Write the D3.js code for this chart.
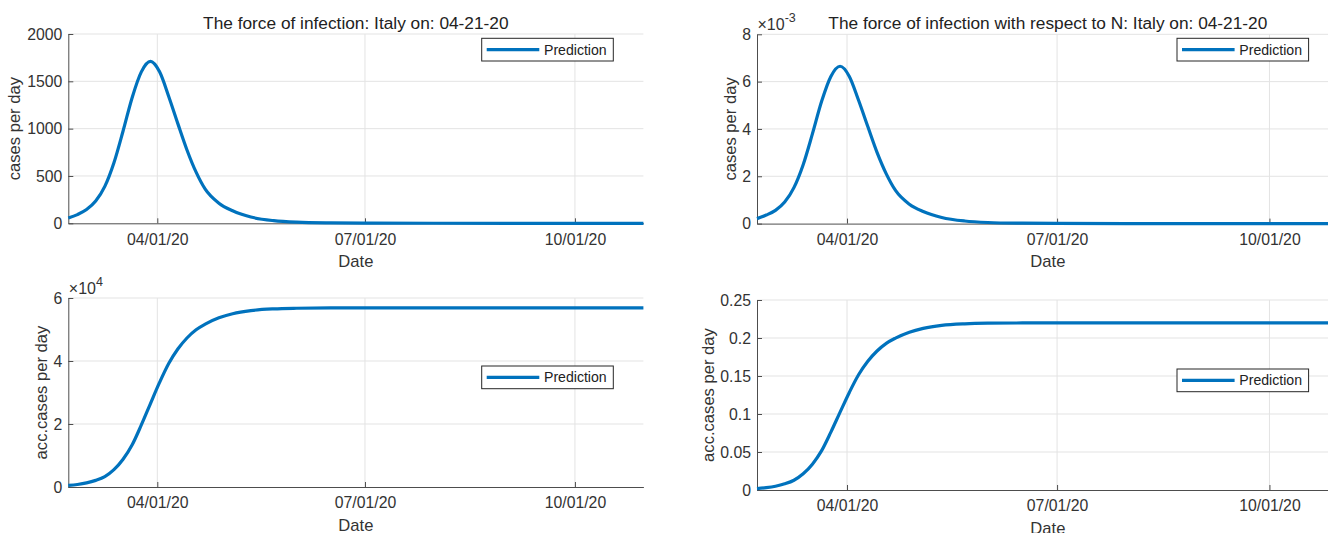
<!DOCTYPE html>
<html><head><meta charset="utf-8">
<script src="https://cdn.jsdelivr.net/npm/d3@7"></script>
<style>
body{margin:0;background:#fff;overflow:hidden;}
svg{display:block;font-family:"Liberation Sans",Arial,Helvetica,sans-serif;}
</style></head><body>
<svg id="chart" width="1328" height="533"></svg>
<script>
// ---- data ----
const sampleDates = ["2020-02-22","2020-02-26","2020-03-01","2020-03-05","2020-03-09","2020-03-13",
  "2020-03-17","2020-03-21","2020-03-25","2020-03-29","2020-04-02","2020-04-06","2020-04-10",
  "2020-04-14","2020-04-18","2020-04-22","2020-04-28","2020-05-04","2020-05-12","2020-05-22",
  "2020-06-01","2020-06-16","2020-07-01","2020-07-31","2020-09-09","2020-10-31"];
const forceValues = [57,92,145,235,390,640,975,1330,1600,1710,1600,1340,1053,775,540,360,
  212,132,66,28,12,4,1.5,0.3,0.05,0];
const forceNValues = [0.00021,0.00036,0.00056,0.00091,0.00152,0.00249,0.00379,0.00517,0.00622,
  0.00665,0.00622,0.00521,0.00410,0.00301,0.00210,0.00140,0.00082,0.00051,0.00026,0.00011,
  0.000047,0.000016,0.000006,0.000001,0.0000002,0];
const accValues = [500,800,1300,2100,3300,5500,8800,13400,19700,26500,33200,39200,43800,47300,
  49900,51700,53700,55000,56000,56550,56750,56850,56880,56880,56880,56880];
const accNValues = [0.0019,0.0031,0.0050,0.0081,0.0128,0.0213,0.0340,0.0518,0.0762,0.1025,
  0.1284,0.1516,0.1694,0.1829,0.1930,0.1999,0.2077,0.2127,0.2166,0.2187,0.2195,0.2198,0.2200,
  0.2200,0.2200,0.2200];
const xStart = "2020-02-22", xEnd = "2020-10-31";
const xTickDates = ["2020-04-01","2020-07-01","2020-10-01"];
const yTicksForce = [0,500,1000,1500,2000];
const yTicksForceN = [0,0.002,0.004,0.006,0.008];
const yTicksAcc = [0,20000,40000,60000];
const yTicksAccN = [0,0.05,0.1,0.15,0.2,0.25];
const seriesName = "Prediction";

const parse = d3.timeParse("%Y-%m-%d");
const svg = d3.select("#chart");
const BLUE = "#0072BD", TXT = "#333333", AX = "#4d4d4d", GRID = "#e3e3e3";

const panels = [
  {L:68.3,R:643.4,T:34,B:223.3,vals:forceValues,ticks:yTicksForce,max:2000,
   fmt:d=>d3.format("d")(d),exp:null,title:"The force of infection: Italy on: 04-21-20",
   ylabel:"cases per day",ylx:20,legTop:38.3},
  {L:757,R:1338.7,T:34.3,B:223.6,vals:forceNValues,ticks:yTicksForceN,max:0.008,
   fmt:d=>d3.format("d")(Math.round(d*1000)),exp:"-3",title:"The force of infection with respect to N: Italy on: 04-21-20",
   ylabel:"cases per day",ylx:735.5,legTop:38.3},
  {L:68.3,R:643.4,T:298,B:487,vals:accValues,ticks:yTicksAcc,max:60000,
   fmt:d=>d3.format("d")(d/10000),exp:"4",title:null,
   ylabel:"acc.cases per day",ylx:46.5,legTop:366},
  {L:757,R:1338.7,T:300,B:490,vals:accNValues,ticks:yTicksAccN,max:0.25,
   fmt:d=>d===0?"0":d3.format("")(+d.toFixed(2)),exp:null,title:null,
   ylabel:"acc.cases per day",ylx:714,legTop:369}
];

panels.forEach(p=>{
  const x = d3.scaleTime().domain([parse(xStart),parse(xEnd)]).range([p.L,p.R]);
  const y = d3.scaleLinear().domain([0,p.max]).range([p.B,p.T]);
  const g = svg.append("g");
  // grid
  g.selectAll(".gx").data(xTickDates.map(parse)).join("line")
    .attr("x1",d=>x(d)).attr("x2",d=>x(d)).attr("y1",p.T).attr("y2",p.B)
    .attr("stroke",GRID).attr("stroke-width",1);
  g.selectAll(".gy").data(p.ticks.filter(t=>t>0)).join("line")
    .attr("x1",p.L).attr("x2",p.R).attr("y1",d=>y(d)).attr("y2",d=>y(d))
    .attr("stroke",GRID).attr("stroke-width",1);
  // axes
  const xAxis = d3.axisBottom(x).tickValues(xTickDates.map(parse))
    .tickFormat(d3.timeFormat("%m/%d/%y")).tickSizeInner(-5).tickSizeOuter(0).tickPadding(10);
  const xg = g.append("g").attr("transform",`translate(0,${p.B})`).call(xAxis);
  const yAxis = d3.axisLeft(y).tickValues(p.ticks).tickFormat(p.fmt)
    .tickSizeInner(-5).tickSizeOuter(0).tickPadding(6);
  const yg = g.append("g").attr("transform",`translate(${p.L},0)`).call(yAxis);
  [xg,yg].forEach(a=>{
    a.select(".domain").attr("stroke",AX).attr("stroke-width",1);
    a.selectAll(".tick line").attr("stroke",AX);
    a.selectAll(".tick text").attr("fill",TXT).style("font-size","15.8px")
      .style("font-family",'"Liberation Sans",Arial,sans-serif');
  });
  xg.selectAll(".tick text").attr("dy","0.71em");
  // line
  const line = d3.line().x((d,i)=>x(parse(sampleDates[i]))).y(d=>y(d)).curve(d3.curveMonotoneX);
  g.append("path").datum(p.vals).attr("d",line).attr("fill","none")
    .attr("stroke",BLUE).attr("stroke-width",3.2).attr("stroke-linejoin","round");
  // exponent
  if(p.exp){
    const t = g.append("text").attr("x",p.L+0.5).attr("y",p.T-4.5).attr("fill",TXT)
      .style("font-size","16px");
    t.append("tspan").text("×10");
    t.append("tspan").attr("dy",-8).style("font-size","12.5px").text(p.exp);
  }
  // title
  if(p.title){
    g.append("text").attr("x",(p.L+p.R)/2).attr("y",p.T-5.5).attr("text-anchor","middle")
      .attr("fill","#222").style("font-size","17.3px").text(p.title);
  }
  // labels
  g.append("text").attr("x",(p.L+p.R)/2).attr("y",p.B+43.5).attr("text-anchor","middle")
    .attr("fill",TXT).style("font-size","16.6px").text("Date");
  g.append("text").attr("transform",`translate(${p.ylx},${(p.T+p.B)/2}) rotate(-90)`)
    .attr("text-anchor","middle").attr("fill",TXT).style("font-size","16.6px").text(p.ylabel);
  // legend
  const lx = p.R-161.7, lw = 131.6, lh = 22.7;
  const lg = g.append("g");
  lg.append("rect").attr("x",lx).attr("y",p.legTop).attr("width",lw).attr("height",lh)
    .attr("fill","#fff").attr("stroke","#262626").attr("stroke-width",1);
  lg.append("line").attr("x1",lx+5).attr("x2",lx+57.6).attr("y1",p.legTop+lh/2).attr("y2",p.legTop+lh/2)
    .attr("stroke",BLUE).attr("stroke-width",3.2);
  lg.append("text").attr("x",lx+62.3).attr("y",p.legTop+lh/2).attr("dy","0.35em")
    .attr("fill","#222").style("font-size","14.1px").text(seriesName);
});
</script>
</body></html>
